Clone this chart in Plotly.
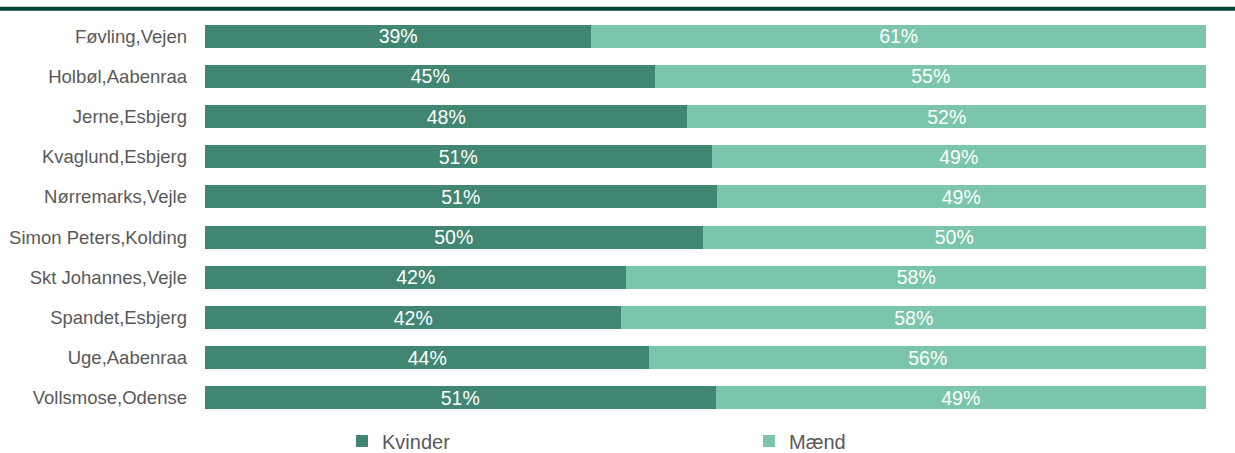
import plotly.graph_objects as go

categories = ["Føvling,Vejen", "Holbøl,Aabenraa", "Jerne,Esbjerg", "Kvaglund,Esbjerg",
              "Nørremarks,Vejle", "Simon Peters,Kolding", "Skt Johannes,Vejle",
              "Spandet,Esbjerg", "Uge,Aabenraa", "Vollsmose,Odense"]
kvinder = [38.6, 45.0, 48.2, 50.6, 51.1, 49.7, 42.1, 41.6, 44.4, 51.0]
maend = [61.4, 55.0, 51.8, 49.4, 48.9, 50.3, 57.9, 58.4, 55.6, 49.0]
series_names = ["Kvinder", "Mænd"]

dark = "#418672"
light = "#7AC5AB"
FONT = "Liberation Sans, Arial, sans-serif"

fig = go.Figure()
for name, vals, col in [(series_names[0], kvinder, dark), (series_names[1], maend, light)]:
    fig.add_trace(go.Bar(
        y=categories, x=vals, name=name, orientation="h",
        marker=dict(color=col, line=dict(width=0)),
        text=[f"{round(v)}%" for v in vals],
        textposition="inside", insidetextanchor="middle", constraintext="none",
        textfont=dict(color="white", size=19.5, family=FONT),
        hoverinfo="skip",
    ))

W, H = 1235, 453
L, R, T, B = 205, 29, 16, 35
pw = W - L - R
ph = H - T - B

fig.update_layout(
    width=W, height=H,
    barmode="stack", bargap=0.43,
    margin=dict(l=L, r=R, t=T, b=B, autoexpand=False),
    paper_bgcolor="white", plot_bgcolor="white",
    font=dict(family=FONT, color="#595959", size=18.5),
    xaxis=dict(range=[0, 100], showticklabels=False, showgrid=False, zeroline=False, ticks=""),
    yaxis=dict(autorange="reversed", showgrid=False, zeroline=False, ticks="",
               tickfont=dict(size=18.5, color="#595959", family=FONT), ticklabelstandoff=17),
    legend=dict(orientation="h", traceorder="normal",
                x=(342 - L) / pw, xanchor="left",
                y=-(441 - T - ph) / ph, yanchor="middle",
                entrywidth=362, entrywidthmode="pixels",
                font=dict(size=20, color="#595959", family=FONT),
                itemwidth=30, bgcolor="rgba(0,0,0,0)"),
    shapes=[dict(type="line", xref="paper", yref="paper",
                 x0=-L / pw, x1=(W - L) / pw, y0=1 + 7.2 / ph, y1=1 + 7.2 / ph,
                 line=dict(color="#064236", width=4))],
)

fig.write_html("out.html", config={"displayModeBar": False},
               post_script="document.body.style.margin='0';document.body.style.overflow='hidden';")
